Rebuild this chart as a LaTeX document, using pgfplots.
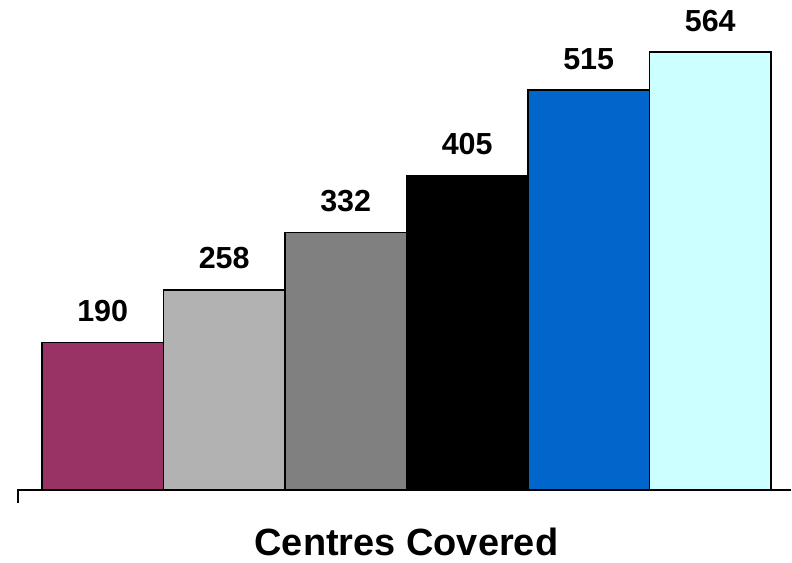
\documentclass[border=0pt]{standalone}
\usepackage{pgfplots}
\pgfplotsset{compat=1.18}
\usepackage{fontspec}
\setmainfont{Liberation Sans}

\definecolor{cMaroon}{HTML}{993366}
\definecolor{cLight}{HTML}{B2B2B2}
\definecolor{cGray}{HTML}{808080}
\definecolor{cBlue}{HTML}{0066CC}
\definecolor{cCyan}{HTML}{CCFFFF}

\pgfplotsset{barstyle/.style={ybar, bar shift=0pt, draw=black, line width=1.4pt}}

\begin{document}
\begin{tikzpicture}
\begin{axis}[
  name=ax,
  scale only axis,
  width=774pt, height=491pt,
  xmin=-0.697, xmax=5.664,
  ymin=0, ymax=631,
  hide axis,
  clip=false,
  bar width=1,
  /pgf/number format/assume math mode=true,
  nodes near coords={\pgfmathprintnumber{\pgfplotspointmeta}},
  every node near coord/.append style={anchor=base, yshift=21pt, inner sep=0pt,
    font=\fontsize{30.5}{36}\selectfont\bfseries, text=black},
]
\addplot[barstyle, fill=cMaroon] coordinates {(0,190)};
\addplot[barstyle, fill=cLight]  coordinates {(1,258)};
\addplot[barstyle, fill=cGray]   coordinates {(2,332)};
\addplot[barstyle, fill=black]   coordinates {(3,405)};
\addplot[barstyle, fill=cBlue]   coordinates {(4,515)};
\addplot[barstyle, fill=cCyan]   coordinates {(5,564)};
% baseline with a single tick at its left end
\draw[line width=2.2pt] (rel axis cs:0,0) -- (rel axis cs:1,0);
\draw[line width=1.5pt] ([yshift=1pt]rel axis cs:0,0) -- ([yshift=-13pt]rel axis cs:0,0);
\node[anchor=base, inner sep=0pt, font=\fontsize{38}{44}\selectfont\bfseries]
  at ([yshift=-65pt]rel axis cs:0.5026,0) {Centres Covered};
% page extent
\path ([xshift=-18pt, yshift=-72pt]rel axis cs:0,0) rectangle (rel axis cs:1,1);
\end{axis}
\end{tikzpicture}
\end{document}
